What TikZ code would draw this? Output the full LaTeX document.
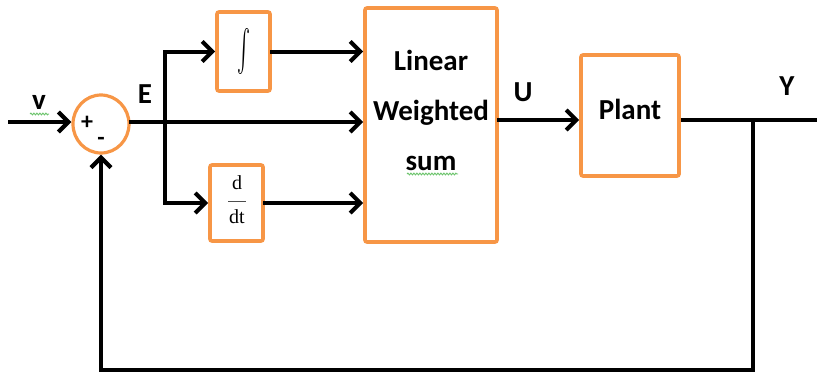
\documentclass[tikz,border=0pt]{standalone}
\usepackage{fontspec}
\setmainfont{Carlito}
\newfontfamily\fracfont{Liberation Serif}
\usetikzlibrary{arrows.meta,shapes.geometric,decorations.pathmorphing}
\definecolor{boxorange}{HTML}{F79646}
\definecolor{spellgreen}{HTML}{6CC46C}
\tikzset{
  blockbox/.style={draw=boxorange, line width=3.6pt, rounded corners=2pt, fill=white, inner sep=0pt},
  sumnode/.style={ellipse, draw=boxorange, line width=3.2pt, minimum width=56pt, minimum height=58pt, inner sep=0pt},
  wire/.style={line width=4pt, line cap=rect},
  arr/.style={wire, -{Straight Barb[length=10pt,width=20pt,line width=4.2pt]}},
  sig/.style={font=\fontsize{29}{30}\selectfont\bfseries, inner sep=0pt},
  boxtext/.style={font=\fontsize{29}{50}\selectfont\bfseries, align=center, inner sep=0pt},
  sign/.style={font=\fontsize{24}{26}\selectfont\bfseries, inner sep=0pt},
  fractext/.style={font=\fracfont\fontsize{20}{22}\selectfont, inner sep=0pt},
  squiggle/.style={draw=spellgreen, line width=0.9pt, decorate, decoration={snake, segment length=3pt, amplitude=0.9pt}}
}
\begin{document}
\begin{tikzpicture}[x=1pt, y=-1pt]
\useasboundingbox (0,0) rectangle (817,373);

% blocks
\node[sumnode] (s) at (101,124) {};
\node[blockbox, minimum width=53pt, minimum height=79pt] (int) at (243.5,51.5) {};
\node[blockbox, minimum width=53pt, minimum height=76pt] (der) at (236.5,203) {};
\node[blockbox, minimum width=132pt, minimum height=234pt] (lws) at (431,125) {};
\node[blockbox, minimum width=98pt, minimum height=121pt] (plant) at (630,115.5) {};

% block contents
\node[inner sep=0pt] (intsym) at (int.center) {\resizebox*{13pt}{46pt}{$\int$}};
\node[fractext] (dnum) at (237,183) {d};
\node[fractext] (dden) at (237,217) {dt};
\draw[line width=0.9pt, draw=black!70] (228,201) -- (246,201);
\node[boxtext] (lwstext) at ([yshift=15pt]lws.center) {Linear\\Weighted\\sum};
\node[boxtext] (planttext) at ([yshift=6pt]plant.center) {Plant};
\node[sign] (plus) at (87,123) {+};
\node[sign] (minus) at (101,141) {-};

% signal labels
\node[sig] (vlab) at (39,102) {v};
\node[sig] (elab) at (145,94) {E};
\node[sig] (ulab) at (523,92) {U};
\node[sig] (ylab) at (787,86) {Y};

% spelling marks under words
\draw[squiggle] (30,114) -- (49,114);
\draw[squiggle] (407,174) -- (458,174);

% connection points
\coordinate (vin) at (10,122);
\coordinate (br) at (165,122);
\coordinate (yout) at (817,120);
\coordinate (fb) at (753,120);
\coordinate (bot) at (420,370);

% forward path
\draw[arr] (vin) -- (s.west |- vin);
\draw[arr] (s.east |- br) -- (lws.west |- br);
\draw[arr] (br) |- (int.west);
\draw[arr] (br) |- (der.west);
\draw[arr] (int.east) -- (int.east -| lws.west);
\draw[arr] (der.east) -- (der.east -| lws.west);
\draw[arr] ([yshift=5pt]lws.east) -- ([yshift=-4.5pt]plant.west);
\draw[wire, line cap=butt] ([yshift=-4.5pt]plant.east) -- (yout);

% feedback path
\draw[arr] (fb) |- (bot) -| (s.south);
\end{tikzpicture}
\end{document}
